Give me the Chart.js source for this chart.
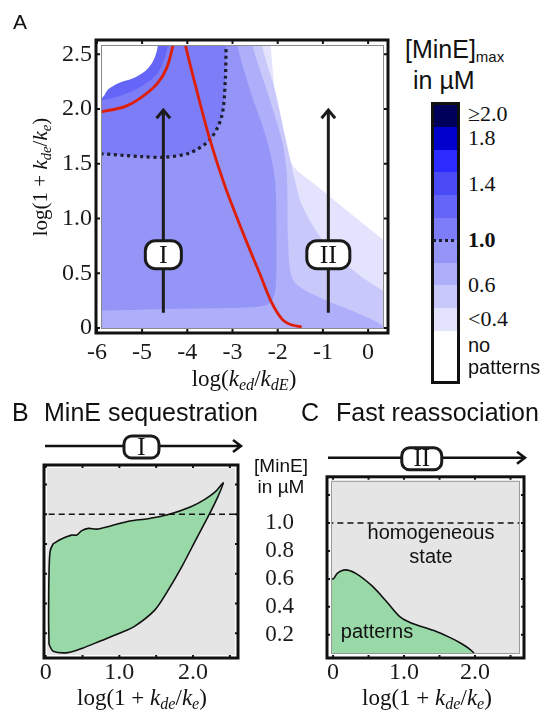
<!DOCTYPE html>
<html>
<head>
<meta charset="utf-8">
<title>MinE patterns</title>
<script src="https://cdn.jsdelivr.net/npm/chart.js@4.4.1/dist/chart.umd.min.js"></script>
<style>
  html, body { margin: 0; padding: 0; background: #fff; }
  #fig { position: relative; width: 552px; height: 716px; overflow: hidden; font-family: "Liberation Sans", Arial, sans-serif; color: #111; }
  #fig canvas, .t { position: absolute; }
  .t { white-space: nowrap; line-height: 1; }
  .serif { font-family: "Liberation Serif", "Times New Roman", serif; }
  .c { transform: translate(-50%, -50%); }
  .t sub { font-size: 70%; vertical-align: -0.28em; line-height: 0; }
  #bar { position: absolute; left: 431px; top: 101.5px; width: 23px; border: 3px solid #111; background: #fff; }
  #bar div { width: 100%; }
</style>
</head>
<body>
<div id="fig">
  <canvas id="chartA" width="400" height="400" style="left:0;top:0"></canvas>
  <canvas id="chartB" width="250" height="286" style="left:0;top:430px"></canvas>
  <canvas id="chartC" width="302" height="286" style="left:250px;top:430px"></canvas>

  <div class="t" style="left:13px;top:11px;font-size:21px">A</div>
  <div class="t serif c" style="left:40px;top:177px;font-size:21px;transform:translate(-50%,-50%) rotate(-90deg)">log(1 + <i>k</i><sub><i>de</i></sub>/<i>k</i><sub><i>e</i></sub>)</div>
  <div class="t serif c" style="left:244px;top:378px;font-size:23px">log(<i>k</i><sub><i>ed</i></sub>/<i>k</i><sub><i>dE</i></sub>)</div>

  <div class="t" style="left:405px;top:37px;font-size:25px">[MinE]<sub style="font-size:15px">max</sub></div>
  <div class="t" style="left:413px;top:68px;font-size:25px">in µM</div>
  <div id="bar"></div>
  <div id="barLabels"></div>

  <div class="t" style="left:12px;top:400px;font-size:25px">B</div>
  <div class="t" style="left:44px;top:400px;font-size:25px">MinE sequestration</div>
  <div class="t" style="left:301px;top:400px;font-size:25px">C</div>
  <div class="t" style="left:336px;top:400px;font-size:25px">Fast reassociation</div>

  <div class="t c" style="left:281px;top:465px;font-size:19px">[MinE]</div>
  <div class="t c" style="left:281px;top:486px;font-size:19px">in µM</div>
  <div class="t c" style="left:431px;top:532px;font-size:20px">homogeneous</div>
  <div class="t c" style="left:431px;top:556px;font-size:20px">state</div>
  <div class="t c" style="left:377px;top:631px;font-size:20px">patterns</div>

  <div class="t serif c" style="left:142px;top:697px;font-size:23px">log(1 + <i>k</i><sub><i>de</i></sub>/<i>k</i><sub><i>e</i></sub>)</div>
  <div class="t serif c" style="left:427px;top:697px;font-size:23px">log(1 + <i>k</i><sub><i>de</i></sub>/<i>k</i><sub><i>e</i></sub>)</div>
</div>

<script>
// ---- panel A: bands of [MinE]max, x = log(ked/kdE), y = log(1+kde/ke) ----
// each band is the region where [MinE]max is above its level (closed outline)
const band02 = [[-2.18,2.8],[-2.16,2.6],[-2.02,2.0],[-1.9,1.78],[-1.78,1.58],[-1.6,1.45],[-1.2,1.32],[-0.4,1.05],[0.35,0.8],[0.6,0.72],[0.6,-0.3],[-6.5,-0.3],[-6.5,2.8]];
const band04 = [[-2.38,2.8],[-2.36,2.6],[-2.06,2.17],[-1.82,1.72],[-1.62,1.35],[-1.44,1.1],[-1.0,0.8],[-0.25,0.5],[0.33,0.34],[0.6,0.27],[0.6,-0.3],[-6.5,-0.3],[-6.5,2.8]];
const band06 = [[-2.6,2.8],[-2.57,2.6],[-2.24,2.17],[-1.91,1.72],[-1.8,1.41],[-1.77,0.8],[-1.66,0.44],[-1.13,0.29],[-0.25,0.14],[0.33,0.02],[0.6,-0.1],[0.6,-0.3],[-6.5,-0.3],[-6.5,2.8]];
const band08 = [[-2.92,2.8],[-2.9,2.6],[-2.61,2.17],[-2.24,1.72],[-2.06,1.35],[-2.03,0.8],[-2.05,0.35],[-2.17,0.23],[-2.46,0.195],[-3.5,0.18],[-4.8,0.17],[-5.9,0.16],[-6.5,0.16],[-6.5,2.8]];
const contour10 = [[-6.5,1.59],[-5.9,1.59],[-5.0,1.565],[-4.5,1.56],[-3.94,1.6],[-3.5,1.72],[-3.24,1.93],[-3.16,2.26],[-3.14,2.62]];
const band12 = [[-6.5,2.06],[-5.88,2.08],[-5.41,2.13],[-5.04,2.2],[-4.67,2.32],[-4.49,2.48],[-4.42,2.62],[-4.4,2.8],[-6.5,2.8]];
const noPatterns = [[-6.5,2.1],[-5.9,2.1],[-5.75,2.18],[-5.5,2.24],[-5.2,2.28],[-4.95,2.34],[-4.78,2.42],[-4.68,2.52],[-4.64,2.62],[-4.62,2.8],[-6.5,2.8]];
// red curves
const redLeft = [[-5.95,1.97],[-5.4,2.02],[-5.04,2.1],[-4.67,2.23],[-4.45,2.38],[-4.31,2.6],[-4.29,2.7]];
const redRight = [[-4.07,2.7],[-4.05,2.6],[-3.76,2.12],[-3.5,1.72],[-3.17,1.3],[-2.76,0.86],[-2.4,0.5],[-2.13,0.23],[-1.9,0.08],[-1.7,0.03],[-1.47,0.01]];
// scan directions I and II
const scanX = [-4.53, -0.88];
const scanY = [0.14, 1.99];
const scanNames = ['I', 'II'];
const aXTicks = [-6, -5, -4, -3, -2, -1, 0];
const aXLabels = ['-6', '-5', '-4', '-3', '-2', '-1', '0'];
const aYTicks = [0, 0.5, 1, 1.5, 2, 2.5];
const aYLabels = ['0', '0.5', '1.0', '1.5', '2.0', '2.5'];

// colour key
const cbColors = ['#00005a', '#0000cc', '#2b2bff', '#4a4af6', '#6565f8', '#7d7df7', '#9595f8', '#aeaefa', '#c8c8fb', '#e3e3fd'];
const cbLabels = ['≥2.0', '1.8', '1.4', '1.0', '0.6', '<0.4'];
const cbLabelPos = [0.4, 1.5, 3.5, 6, 8, 9.5];

// ---- panels B and C: pattern region vs log(1+kde/ke) and [MinE] ----
const seqOutline = [[0.045,0.125],[0.04,0.3],[0.045,0.6],[0.06,0.75],[0.1,0.8],[0.13,0.81],[0.2,0.83],[0.29,0.85],[0.35,0.86],[0.42,0.86],[0.49,0.89],[0.58,0.905],[0.69,0.9],[0.87,0.92],[1.14,0.955],[1.39,0.97],[1.68,1.0],[1.97,1.05],[2.16,1.1],[2.3,1.15],[2.41,1.21],[2.32,1.1],[2.2,0.98],[2.05,0.84],[1.85,0.65],[1.65,0.48],[1.48,0.356],[1.2,0.245],[1.0,0.2],[0.75,0.15],[0.5,0.1],[0.3,0.07],[0.1,0.08],[0.045,0.125]];
const fastOutline = [[-0.3,-0.2],[-0.3,0.6],[0.0,0.6],[0.06,0.64],[0.17,0.665],[0.32,0.64],[0.55,0.55],[0.75,0.44],[0.94,0.33],[1.1,0.285],[1.42,0.23],[1.65,0.18],[1.8,0.14],[1.92,0.1],[2.0,0.06],[2.06,0.0],[2.1,-0.2]];
const refLevel = 1.0;
const bcXTicks = [0, 0.5, 1, 1.5, 2, 2.5];
const bcXLabels = ['0', '', '1.0', '', '2.0', ''];
const bcYTicks = [0.2, 0.4, 0.6, 0.8, 1.0, 1.2];
const bcYLabels = ['0.2', '0.4', '0.6', '0.8', '1.0', ''];

Chart.defaults.font.family = '"Liberation Serif", serif';
Chart.defaults.color = '#1a1a1a';

const pts = arr => arr.map(p => ({x: p[0], y: p[1]}));

function area(arr, color, order, stroke) {
  return {data: pts(arr), showLine: true, fill: 'shape', backgroundColor: color,
    borderColor: stroke || color, borderWidth: stroke ? 1.6 : 0, pointRadius: 0,
    tension: 0.3, capBezierPoints: false, order: order};
}
function curve(arr, color, width, order, dash) {
  return {data: pts(arr), showLine: true, fill: false, borderColor: color, borderWidth: width,
    borderDash: dash || [], borderCapStyle: 'butt', pointRadius: 0, tension: 0.3,
    capBezierPoints: false, order: order};
}

function drawTag(ctx, cx, cy, text, w, h, size) {
  ctx.beginPath();
  ctx.roundRect(cx - w / 2, cy - h / 2, w, h, h / 2.8);
  ctx.fillStyle = '#fff';
  ctx.fill();
  ctx.lineWidth = 3;
  ctx.strokeStyle = '#1a1a1a';
  ctx.stroke();
  ctx.fillStyle = '#111';
  ctx.font = size + 'px "Liberation Serif"';
  ctx.textAlign = 'center';
  ctx.textBaseline = 'middle';
  ctx.fillText(text, cx, cy + 1);
}

// thick frame, inward ticks, inset plot box (also the clip for the data)
function frame(cfg) {
  const box = a => ({x: a.left + cfg.inset[0], y: a.top + cfg.inset[1],
    w: a.width - cfg.inset[0] - cfg.inset[2], h: a.height - cfg.inset[1] - cfg.inset[3]});
  return {
    id: 'frame',
    beforeDatasetsDraw(chart) {
      const ctx = chart.ctx, r = box(chart.chartArea);
      ctx.save();
      if (cfg.fill) { ctx.fillStyle = cfg.fill; ctx.fillRect(r.x, r.y, r.w, r.h); }
      ctx.beginPath();
      ctx.rect(r.x, r.y, r.w, r.h);
      ctx.clip();
    },
    afterDatasetsDraw(chart) {
      const ctx = chart.ctx, a = chart.chartArea, r = box(a);
      const xs = chart.scales.x, ys = chart.scales.y;
      ctx.restore();
      ctx.save();
      if (cfg.innerLine) {
        ctx.strokeStyle = cfg.innerLine;
        ctx.lineWidth = 1;
        ctx.strokeRect(r.x + 0.5, r.y + 0.5, r.w - 1, r.h - 1);
      }
      ctx.strokeStyle = '#111';
      ctx.lineWidth = 2;
      ctx.beginPath();
      cfg.xTicks.forEach(v => {
        const p = xs.getPixelForValue(v);
        ctx.moveTo(p, a.bottom); ctx.lineTo(p, a.bottom - cfg.len);
        ctx.moveTo(p, a.top); ctx.lineTo(p, a.top + cfg.len);
      });
      cfg.yTicks.forEach(v => {
        const p = ys.getPixelForValue(v);
        ctx.moveTo(a.left, p); ctx.lineTo(a.left + cfg.len, p);
        ctx.moveTo(a.right, p); ctx.lineTo(a.right - cfg.len, p);
      });
      ctx.stroke();
      ctx.lineWidth = 3;
      ctx.strokeRect(a.left, a.top, a.width, a.height);
      (cfg.tags || []).forEach(t => {
        drawTag(ctx, xs.getPixelForValue(t.x), ys.getPixelForValue(t.y), t.text, t.w, t.h, t.size);
      });
      if (cfg.topArrow) {
        const t = cfg.topArrow, y = a.top - 19, x1 = a.left + 1, x2 = a.right + t.over;
        ctx.lineWidth = 2.5;
        ctx.beginPath();
        ctx.moveTo(x1, y); ctx.lineTo(x2, y);
        ctx.moveTo(x2 - 8, y - 6); ctx.lineTo(x2, y); ctx.lineTo(x2 - 8, y + 6);
        ctx.stroke();
        drawTag(ctx, xs.getPixelForValue(t.x), y + 1, t.text, t.w, 22, 25);
      }
      ctx.restore();
    }
  };
}

function axis(o) {
  return {
    type: 'linear', min: o.min, max: o.max, position: o.position,
    grid: {display: false, drawTicks: false}, border: {display: false},
    afterBuildTicks: s => { s.ticks = o.ticks.map(v => ({value: v})); },
    afterFit: s => { if (o.height) s.height = o.height; if (o.width) s.width = o.width; },
    ticks: {display: o.labels !== null, autoSkip: false, maxRotation: 0, padding: o.padding,
      color: '#1a1a1a', font: {size: o.size || 22}, callback: (v, i) => o.labels ? o.labels[i] : ''}
  };
}

function baseOptions(padding, x, y) {
  return {
    responsive: false, animation: false, events: [],
    layout: {padding: padding},
    plugins: {legend: {display: false}, tooltip: {enabled: false}},
    scales: {x: x, y: y}
  };
}

// panel A
const aSets = [];
scanX.forEach(x => {
  aSets.push(curve([[x, scanY[0]], [x, scanY[1]]], '#1c1c1c', 3, 0));
  aSets.push(Object.assign(curve([[x - 0.15, scanY[1] - 0.075], [x, scanY[1]], [x + 0.15, scanY[1] - 0.075]], '#1c1c1c', 3, 0), {tension: 0, borderJoinStyle: 'miter'}));
});
aSets.push(curve(redLeft, '#de1e05', 2.8, 1));
aSets.push(curve(redRight, '#de1e05', 2.8, 1));
aSets.push(curve(contour10, '#1d1d2b', 3.2, 1, [3, 3.6]));
aSets.push(area(noPatterns, '#ffffff', 2));
aSets.push(area(band12, cbColors[4], 3));
aSets.push(area(contour10.concat([[-3.14, 2.8], [-6.5, 2.8]]), cbColors[5], 4));
aSets.push(area(band08, cbColors[6], 5));
aSets.push(area(band06, cbColors[7], 6));
aSets.push(area(band04, cbColors[8], 7));
aSets.push(area(band02, cbColors[9], 8));

new Chart(document.getElementById('chartA'), {
  type: 'scatter',
  data: {datasets: aSets},
  options: baseOptions({left: 0, top: 40, right: 12, bottom: 0},
    axis({min: -6.02, max: 0.44, position: 'bottom', ticks: aXTicks, labels: aXLabels, padding: 5, height: 67, size: 24}),
    axis({min: -0.045, max: 2.63, position: 'left', ticks: aYTicks, labels: aYLabels, padding: 4, width: 96, size: 24})),
  plugins: [frame({inset: [5, 5, 4, 4], innerLine: '#8a8a8a', len: 4, xTicks: aXTicks, yTicks: aYTicks,
    tags: scanX.map((x, i) => ({x: x, y: 0.67, text: scanNames[i], w: i ? 43 : 36, h: 28, size: 26}))})]
});

// panel B
new Chart(document.getElementById('chartB'), {
  type: 'scatter',
  data: {datasets: [
    curve([[-0.5, refLevel], [3, refLevel]], '#111', 1.5, 0, [6, 4]),
    area(seqOutline, '#99d8a7', 1, '#111')
  ]},
  options: baseOptions({left: 44, top: 35, right: 12, bottom: 0},
    axis({min: -0.023, max: 2.61, position: 'bottom', ticks: bcXTicks, labels: bcXLabels, padding: 0, height: 58, size: 24}),
    Object.assign(axis({min: 0.034, max: 1.331, position: 'left', ticks: bcYTicks, labels: null}), {display: false})),
  plugins: [frame({inset: [3, 3, 3, 3], fill: '#e5e5e5', len: 3, xTicks: bcXTicks, yTicks: bcYTicks,
    topArrow: {x: 1.3, text: 'I', w: 35, over: 3}})]
});

// panel C
new Chart(document.getElementById('chartC'), {
  type: 'scatter',
  data: {datasets: [
    curve([[-0.5, refLevel], [3, refLevel]], '#111', 1.5, 0, [6, 4]),
    area(fastOutline, '#99d8a7', 1, '#111')
  ]},
  options: baseOptions({left: 0, top: 35, right: 28, bottom: 0},
    axis({min: -0.085, max: 2.69, position: 'bottom', ticks: bcXTicks, labels: bcXLabels, padding: 0, height: 58, size: 24}),
    axis({min: 0.034, max: 1.331, position: 'left', ticks: bcYTicks, labels: bcYLabels, padding: 33, width: 77, size: 23})),
  plugins: [frame({inset: [4, 4, 4, 4], fill: '#e5e5e5', innerLine: '#999', len: 3, xTicks: bcXTicks, yTicks: bcYTicks,
    topArrow: {x: 1.25, text: 'II', w: 40, over: 1}})]
});

// colour key bar and its labels
const bar = document.getElementById('bar');
const segH = 22.62;
cbColors.forEach(c => {
  const d = document.createElement('div');
  d.style.height = segH + 'px';
  d.style.background = c;
  bar.appendChild(d);
});
const rest = document.createElement('div');
rest.style.height = '50.8px';
bar.appendChild(rest);

const holder = document.getElementById('barLabels');
cbLabels.forEach((txt, i) => {
  const d = document.createElement('div');
  d.className = 't serif';
  d.textContent = txt;
  d.style.left = '468px';
  d.style.top = (104.5 + cbLabelPos[i] * segH) + 'px';
  d.style.transform = 'translateY(-50%)';
  d.style.fontSize = '22px';
  if (txt === '1.0') d.style.fontWeight = 'bold';
  holder.appendChild(d);
});
['no', 'patterns'].forEach((txt, i) => {
  const d = document.createElement('div');
  d.className = 't';
  d.textContent = txt;
  d.style.left = '468px';
  d.style.top = (345 + i * 22) + 'px';
  d.style.transform = 'translateY(-50%)';
  d.style.fontSize = '20px';
  holder.appendChild(d);
});
const dots = document.createElement('div');
dots.style.cssText = 'position:absolute;left:433px;top:' + (104.5 + 6 * segH - 1.5) + 'px;width:25px;height:3px;' +
  'background:repeating-linear-gradient(90deg,#1d1d2b 0 3px,transparent 3px 6px)';
holder.appendChild(dots);
</script>
</body>
</html>
